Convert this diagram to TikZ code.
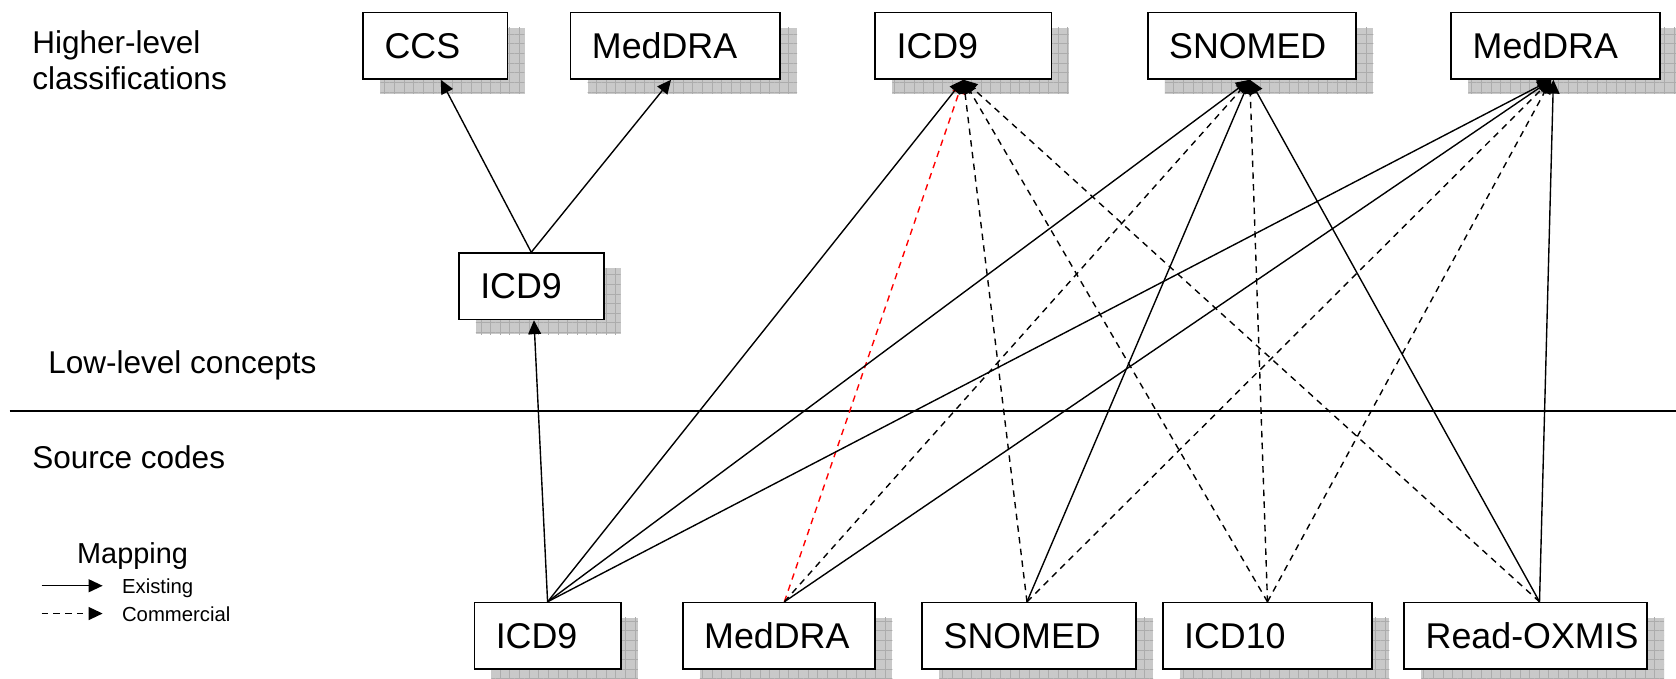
\documentclass[tikz,border=0pt]{standalone}
\usepackage{fontspec}
\setmainfont{Liberation Sans}
\usetikzlibrary{arrows.meta,patterns.meta}
\begin{document}
\begin{tikzpicture}[x=1pt,y=-1pt,
  box/.style={draw=black, line width=1.6pt, fill=white, anchor=north west,
    minimum height=62pt, inner xsep=20pt, text height=23.8pt, text depth=0pt,
    align=left, font=\fontsize{33.5}{40}\selectfont,
    preaction={fill=gray!42, transform canvas={xshift=16pt,yshift=-14pt}},
    preaction={pattern={Hatch[angle=0,distance=9pt,line width=0.7pt]}, pattern color=gray!65,
      transform canvas={xshift=16pt,yshift=-14pt}}},
  lbl/.style={anchor=base west, inner sep=0pt, font=\fontsize{29.5}{35}\selectfont},
  mapex/.style={line width=1.3pt, -{Triangle[length=13pt,width=12pt]}},
  mapcm/.style={mapex, dash pattern=on 6pt off 5pt},
  mapred/.style={mapcm, draw=red}]
\useasboundingbox (0,0) rectangle (1568,635);

% labels
\node[lbl] (l1) at (30,50) {Higher-level};
\node[lbl] (l2) at (30,84) {classifications};
\node[lbl] (l3) at (45,349) {Low-level concepts};
\node[lbl] (l4) at (30,438) {Source codes};
\draw[line width=1.2pt] (9,384.5) -- (1568,384.5);

% legend
\node[anchor=base, inner sep=0pt, font=\fontsize{27}{32}\selectfont] (map) at (124,527) {Mapping};
\coordinate (e1) at (39,548); \coordinate (e2) at (96,548);
\coordinate (c1) at (39,574); \coordinate (c2) at (96,574);
\draw[mapex] (e1) -- (e2);
\draw[mapcm] (c1) -- (c2);
\node[anchor=base west, inner sep=0pt, font=\fontsize{19}{23}\selectfont] (lex) at (114,555) {Existing};
\node[anchor=base west, inner sep=0pt, font=\fontsize{19}{23}\selectfont] (lcm) at (114,581) {Commercial};

% top boxes
\node[box, text width=95pt]  (ccsT) at (339,11) {CCS};
\node[box, text width=156pt] (mdT)  at (533,11) {MedDRA};
\node[box, text width=125pt] (icdT) at (818,11) {ICD9};
\node[box, text width=155pt] (snT)  at (1073,11) {SNOMED};
\node[box, text width=155pt] (mdR)  at (1357,11) {MedDRA};
% middle
\node[box, text width=95.5pt] (icdM) at (428.5,236) {ICD9};
% bottom
\node[box, text width=97pt]  (icdB) at (443,563) {ICD9};
\node[box, text width=140pt] (mdB)  at (638,563) {MedDRA};
\node[box, text width=160pt] (snB)  at (862,563) {SNOMED};
\node[box, text width=156pt] (icdX) at (1087,563) {ICD10};
\node[box, text width=187pt] (roB)  at (1313,563) {\mbox{Read-OXMIS}};

% connectors
\draw[mapex] (icdM.north) -- ([xshift=5pt]ccsT.south);
\draw[mapex] (icdM.north) -- ([xshift=-4pt]mdT.south);
\draw[mapex] (icdB.north) -- ([xshift=2.5pt]icdM.south);

\draw[mapred] ([xshift=5pt]mdB.north) -- (icdT.south);

\draw[mapex] (icdB.north) -- (icdT.south);
\draw[mapex] (icdB.north) -- ([xshift=-2pt]snT.south);
\draw[mapex] (icdB.north) -- ([xshift=-4pt]mdR.south);

\draw[mapcm] ([xshift=5pt]mdB.north) -- ([xshift=-2pt]snT.south);
\draw[mapex] ([xshift=5pt]mdB.north) -- ([xshift=-4pt]mdR.south);

\draw[mapcm] ([xshift=-2pt]snB.north) -- (icdT.south);
\draw[mapex] ([xshift=-2pt]snB.north) -- ([xshift=-2pt]snT.south);
\draw[mapcm] ([xshift=-2pt]snB.north) -- ([xshift=-4pt]mdR.south);

\draw[mapcm] (icdX.north) -- (icdT.south);
\draw[mapcm] (icdX.north) -- ([xshift=-2pt]snT.south);
\draw[mapcm] (icdX.north) -- ([xshift=-4pt]mdR.south);

\draw[mapcm] ([xshift=13pt]roB.north) -- (icdT.south);
\draw[mapex] ([xshift=13pt]roB.north) -- ([xshift=-2pt]snT.south);
\draw[mapex] ([xshift=13pt]roB.north) -- ([xshift=-2pt]mdR.south);
\end{tikzpicture}
\end{document}
